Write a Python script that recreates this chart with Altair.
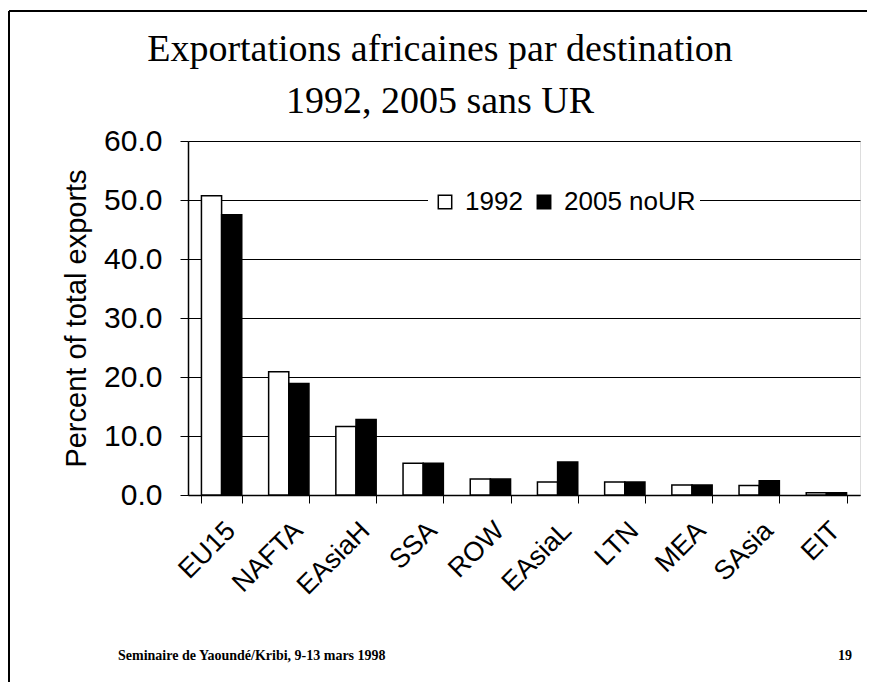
import altair as alt
import pandas as pd

categories = ["EU15", "NAFTA", "EAsiaH", "SSA", "ROW", "EAsiaL", "LTN", "MEA", "SAsia", "EIT"]
series = ["1992", "2005 noUR"]
values_1992 = [50.7, 20.9, 11.6, 5.4, 2.7, 2.2, 2.2, 1.7, 1.6, 0.4]
values_2005 = [47.5, 18.9, 12.8, 5.4, 2.7, 5.6, 2.2, 1.7, 2.4, 0.4]
y_ticks = [0, 10, 20, 30, 40, 50, 60]
title_lines = ["Exportations africaines par destination", "1992, 2005 sans UR"]
footer_texts = ["Seminaire de Yaoundé/Kribi, 9-13 mars 1998", "19"]

rows = []
for c, a, b in zip(categories, values_1992, values_2005):
    rows.append({"dest": c, "series": series[0], "value": a})
    rows.append({"dest": c, "series": series[1], "value": b})
df = pd.DataFrame(rows)

W, H = 672, 354

bars = alt.Chart(df).mark_bar(stroke="black", strokeWidth=1.5).encode(
    x=alt.X("dest:N", sort=categories, title=None,
            scale=alt.Scale(paddingInner=0.4, paddingOuter=0.2),
            axis=alt.Axis(labelAngle=-45, labelFont="Liberation Sans", labelFontSize=27,
                          labelColor="black", labelPadding=14, tickBand="extent",
                          tickColor="black", tickSize=8, domainColor="black",
                          domainWidth=1.5, grid=False)),
    xOffset=alt.XOffset("series:N", sort=series),
    y=alt.Y("value:Q", title="Percent of total exports",
            scale=alt.Scale(domain=[0, 60], nice=False),
            axis=alt.Axis(values=y_ticks, format=".1f", labelFont="Liberation Sans",
                          labelFontSize=30, labelColor="black", labelPadding=18,
                          tickColor="black", tickSize=8, domainColor="black",
                          domainWidth=1.5, grid=True, gridColor="black", gridWidth=1.2,
                          titleFont="Liberation Sans", titleFontSize=29,
                          titleFontWeight="normal", titleColor="black", titlePadding=12)),
    fill=alt.Fill("series:N", sort=series,
                  scale=alt.Scale(domain=series, range=["white", "black"]),
                  legend=alt.Legend(title=None, orient="none", legendX=240, legendY=44,
                                    direction="horizontal", symbolType="square",
                                    symbolSize=180, symbolStrokeColor="black",
                                    symbolStrokeWidth=1.5, labelFont="Liberation Sans",
                                    labelFontSize=26, labelColor="black", labelOffset=7,
                                    columnPadding=8, fillColor="white", padding=4)),
)

title_df = pd.DataFrame({"t": title_lines, "px": [252, 252], "py": [-80, -28]})
title = alt.Chart(title_df).mark_text(font="Liberation Serif", fontSize=38, fontWeight="normal",
                                      align="center", baseline="alphabetic", color="black").encode(
    text="t:N", x=alt.X("px:Q", scale=None), y=alt.Y("py:Q", scale=None))

footer = pd.DataFrame({"t": footer_texts, "px": [-70, 650], "py": [519, 519]})
foot = alt.Chart(footer).mark_text(font="Liberation Serif", fontSize=14, fontWeight="bold",
                                   align="left", baseline="alphabetic", color="black").encode(
    text="t:N", x=alt.X("px:Q", scale=None), y=alt.Y("py:Q", scale=None))

frame_df = pd.DataFrame({"x1": [-179, -179, -179], "x2": [-179, 679, -110],
                         "y1": [-130, -130, 543], "y2": [543, -130, 543]})
frame = alt.Chart(frame_df).mark_rule(color="black", strokeWidth=2).encode(
    x=alt.X("x1:Q", scale=None), x2="x2", y=alt.Y("y1:Q", scale=None), y2="y2")

chart = alt.layer(bars, title, foot, frame).properties(
    width=W, height=H,
    autosize=alt.AutoSizeParams(type="none"),
    padding={"left": 180, "top": 133, "right": 15, "bottom": 187},
).configure_view(stroke=None).configure(background="white")

chart.save("out.html", embed_options={"renderer": "svg", "actions": False})
